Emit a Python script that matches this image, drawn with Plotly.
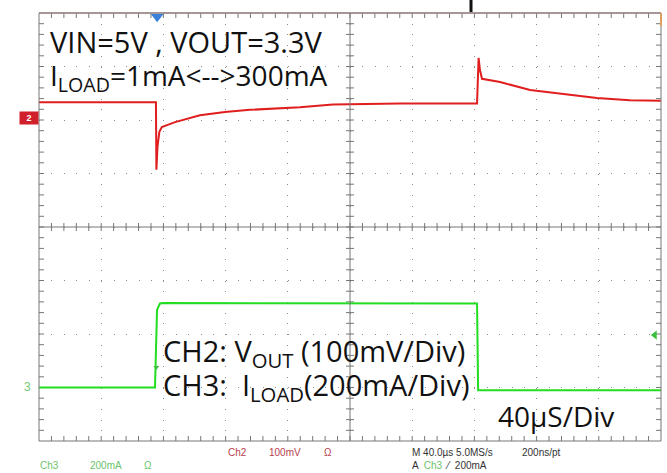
import plotly.graph_objects as go

# ---- data (x in microseconds, y in screen divisions) ----
ch2_time = [0, 75.2, 75.5, 76.2, 77.4, 79.0, 87.5, 103.5, 119.6, 135.7, 167.8, 189.0, 232.0,
            281.7, 282.7, 283.6, 284.9, 296.5, 315.8, 335.0, 358.8, 380.0, 400.0]
ch2_vout = [2.33, 2.33, 1.07, 1.50, 1.78, 1.87, 1.96, 2.09, 2.15, 2.19, 2.24, 2.29, 2.31,
            2.31, 3.16, 2.93, 2.77, 2.71, 2.56, 2.49, 2.41, 2.37, 2.36]

ch3_time = [0, 74.6, 75.9, 77.8, 79.7, 281.7, 282.4, 400.0]
ch3_iload = [-3.0, -3.0, -1.55, -1.43, -1.42, -1.43, -3.05, -3.05]

# ---- geometry helpers (pixel -> paper) ----
L, R, T, B = 39, 661, 13, 441
def pxx(x):
    return (x - L) / (R - L)
def pxy(y):
    return (B - y) / (B - T)

RED = "#e01e1e"
GREEN = "#22dd22"
GRID = "#8e8e8e"
FRAME = "#777777"

fig = go.Figure()

# graticule tick marks (frame edges + centre cross) as one broken line trace
tick_x, tick_y = [], []
ty = 5 / 53.5          # 5 px in divisions (vertical)
tx = 5 * 400 / 622     # 5 px in microseconds (horizontal)
for i in range(1, 50):
    xv = i * 8
    for a, b in ((-4, -4 + ty), (4 - ty, 4), (-0.8 * ty, 0.8 * ty)):
        tick_x += [xv, xv, None]
        tick_y += [a, b, None]
for i in range(1, 40):
    yv = -4 + i * 0.2
    for a, b in ((0, tx), (400 - tx, 400), (200 - 0.8 * tx, 200 + 0.8 * tx)):
        tick_x += [a, b, None]
        tick_y += [yv, yv, None]
fig.add_trace(go.Scatter(x=tick_x, y=tick_y, mode="lines", connectgaps=False,
                         line=dict(color=FRAME, width=1), hoverinfo="skip", showlegend=False))

fig.add_trace(go.Scatter(x=ch2_time, y=ch2_vout, mode="lines",
                         line=dict(color=RED, width=2), showlegend=False))
fig.add_trace(go.Scatter(x=ch3_time, y=ch3_iload, mode="lines",
                         line=dict(color=GREEN, width=2), showlegend=False))

# markers (trigger position, trigger level, trigger point)
fig.add_trace(go.Scatter(x=[76], y=[3.93], mode="markers", cliponaxis=False,
                         marker=dict(symbol="triangle-down", size=11, color="#3b7fd8"),
                         showlegend=False))
fig.add_trace(go.Scatter(x=[396], y=[-2.02], mode="markers", cliponaxis=False,
                         marker=dict(symbol="triangle-left", size=8, color="#3cbf3c"),
                         showlegend=False))
fig.add_trace(go.Scatter(x=[75.5], y=[-2.62], mode="markers", cliponaxis=False,
                         marker=dict(symbol="triangle-down", size=5, color="#3cbf3c"),
                         showlegend=False))

axis_common = dict(showticklabels=False, zeroline=False, showline=False, ticks="",
                   showgrid=True, gridcolor=GRID, gridwidth=1)
fig.update_xaxes(range=[0, 400], dtick=40, griddash="1px,9.7px", **axis_common)
fig.update_yaxes(range=[-4, 4], dtick=1, griddash="1px,11.44px", **axis_common)

shapes = [
    dict(type="rect", xref="paper", yref="paper", x0=0, x1=1, y0=0, y1=1,
         line=dict(color=FRAME, width=1)),
    dict(type="line", xref="paper", yref="paper", x0=0, x1=1, y0=1, y1=1,
         line=dict(color="#a08a8a", width=1.5)),
    dict(type="line", xref="paper", yref="paper", x0=1, x1=1, y0=pxy(13), y1=pxy(26),
         line=dict(color="#e0a060", width=2)),
    dict(type="line", xref="x", yref="y", x0=200, x1=200, y0=-4, y1=4, line=dict(color=FRAME, width=1)),
    dict(type="line", xref="x", yref="y", x0=0, x1=400, y0=0, y1=0, line=dict(color=FRAME, width=1)),
    dict(type="line", xref="paper", yref="paper", x0=pxx(471), x1=pxx(471), y0=pxy(0), y1=pxy(12),
         line=dict(color="#111111", width=3)),
]
fig.update_layout(shapes=shapes)

ann = []
def A(text, x, y, size, color="#111111", family="Open Sans", **kw):
    d = dict(text=text, x=pxx(x), y=pxy(y), xref="paper", yref="paper", showarrow=False,
             xanchor="left", yanchor="middle", font=dict(family=family, size=size, color=color))
    d.update(kw)
    ann.append(d)

A("VIN=5V , VOUT=3.3V", 48, 41, 29)
A("I<sub>LOAD</sub>=1mA<-->300mA", 48, 77, 28)
A("CH2: V<sub>OUT</sub> (100mV/Div)", 161, 352, 29)
A("CH3:  I<sub>LOAD</sub>(200mA/Div)", 161, 386, 29)
A("40µS/Div", 496, 416, 28)

small = "Liberation Sans"
A("Ch3", 38, 466, 10, "#6cc46c", small)
A("200mA", 88, 466, 10, "#6cc46c", small)
A("Ω", 142, 466, 10, "#6cc46c", small)
A("Ch2", 226, 452, 10, "#b8404c", small)
A("100mV", 267, 452, 10, "#b8404c", small)
A("Ω", 322, 452, 10, "#b8404c", small)
A("M 40.0µs 5.0MS/s", 410, 452, 10, "#333333", small)
A("200ns/pt", 520, 452, 10, "#333333", small)
A("A  <span style='color:#6cc46c'>Ch3</span>  ⁄  200mA", 410, 465, 10, "#333333", small)

# channel ground markers
A("<b>2</b>", 19, 118, 9, "#ffffff", small, bgcolor="#d0202c", borderpad=1, width=16)
A("3", 22, 387, 12, "#77cc77", small)

fig.update_layout(annotations=ann, width=667, height=473,
                  margin=dict(l=L, r=667 - R, t=T, b=473 - B),
                  paper_bgcolor="white", plot_bgcolor="white", showlegend=False)

fig.write_html("out.html", config={"displayModeBar": False},
               post_script="document.body.style.margin='0px';")
